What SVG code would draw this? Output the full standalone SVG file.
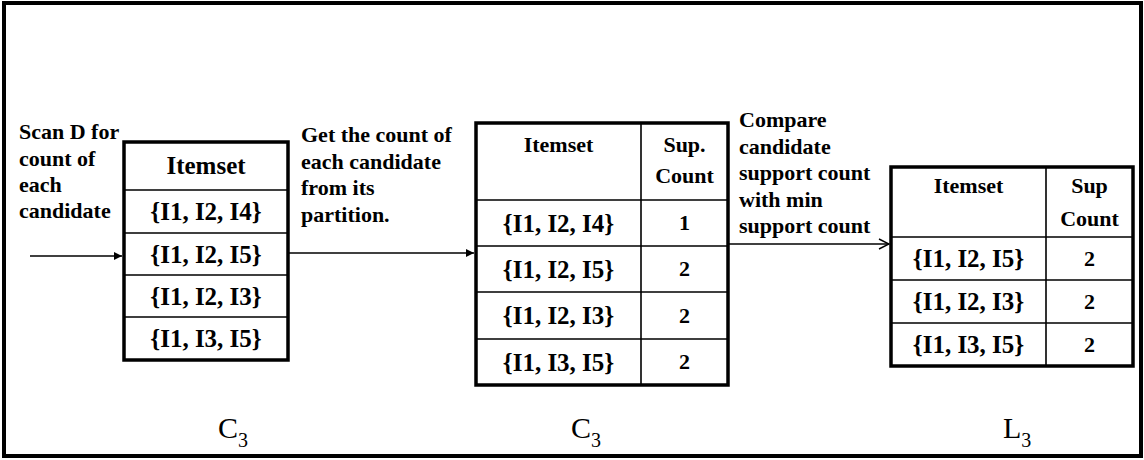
<svg xmlns="http://www.w3.org/2000/svg" width="1144" height="460" viewBox="0 0 1144 460">
  <style>
    .frame { fill: #ffffff; stroke: #000000; stroke-width: 4; }
    .tbl { fill: #ffffff; stroke: #000000; stroke-width: 3.5; }
    .grid { stroke: #000000; stroke-width: 1.6; fill: none; }
    .cell { font-family: 'Liberation Serif', serif; font-weight: 700; font-size: 25px; fill: #000000; text-anchor: middle; }
    .head { font-family: 'Liberation Serif', serif; font-weight: 700; font-size: 22px; fill: #000000; text-anchor: middle; }
    .note { font-family: 'Liberation Serif', serif; font-weight: 700; font-size: 22px; fill: #000000; }
    .cap { font-family: 'Liberation Serif', serif; font-size: 30px; fill: #000000; }
    .sub { font-size: 20px; }
    .conn { stroke: #000000; stroke-width: 1.6; fill: none; }
  </style>
  <defs>
    <marker id="solidHead" viewBox="0 0 10 10" refX="10" refY="5" markerWidth="8" markerHeight="8" markerUnits="userSpaceOnUse" orient="auto">
      <path d="M0,0 L10,5 L0,10 Z" fill="#000000"/>
    </marker>
    <marker id="openHead" viewBox="0 0 12 12" refX="11" refY="6" markerWidth="12" markerHeight="12" markerUnits="userSpaceOnUse" orient="auto">
      <path d="M1,1 L11,6 L1,11" fill="none" stroke="#000000" stroke-width="1.4"/>
    </marker>
  </defs>

  <!-- outer border -->
  <rect class="frame" x="4" y="3" width="1137" height="453"/>

  <!-- step annotations -->
  <g id="label-scan">
    <text class="note" x="19" y="139">Scan D for</text>
    <text class="note" x="19" y="165.5">count of</text>
    <text class="note" x="19" y="192">each</text>
    <text class="note" x="19" y="218">candidate</text>
  </g>
  <g id="label-count">
    <text class="note" x="301" y="142">Get the count of</text>
    <text class="note" x="301" y="168.5">each candidate</text>
    <text class="note" x="301" y="195">from its</text>
    <text class="note" x="301" y="221.5">partition.</text>
  </g>
  <g id="label-compare">
    <text class="note" x="739" y="127">Compare</text>
    <text class="note" x="739" y="153.5">candidate</text>
    <text class="note" x="739" y="180">support count</text>
    <text class="note" x="739" y="206.5">with min</text>
    <text class="note" x="739" y="233">support count</text>
  </g>

  <!-- candidate itemsets C3 -->
  <g id="table-c3-scan">
    <rect class="tbl" x="124" y="142" width="164" height="218"/>
    <path class="grid" d="M124,190 H288 M124,233 H288 M124,275 H288 M124,317 H288"/>
    <text class="cell" x="206" y="174">Itemset</text>
    <text class="cell" x="206" y="220">{I1, I2, I4}</text>
    <text class="cell" x="206" y="262.5">{I1, I2, I5}</text>
    <text class="cell" x="206" y="304.5">{I1, I2, I3}</text>
    <text class="cell" x="206" y="347">{I1, I3, I5}</text>
  </g>

  <!-- candidate itemsets C3 with support counts -->
  <g id="table-c3-count">
    <rect class="tbl" x="476" y="123" width="252" height="262"/>
    <path class="grid" d="M476,200 H728 M476,246 H728 M476,292 H728 M476,339 H728 M641,123 V385"/>
    <text class="head" x="558.5" y="152">Itemset</text>
    <text class="head" x="684.5" y="152">Sup.</text>
    <text class="head" x="684.5" y="183">Count</text>
    <text class="cell" x="558.5" y="231.5">{I1, I2, I4}</text>
    <text class="head" x="684.5" y="230">1</text>
    <text class="cell" x="558.5" y="277.5">{I1, I2, I5}</text>
    <text class="head" x="684.5" y="276">2</text>
    <text class="cell" x="558.5" y="324">{I1, I2, I3}</text>
    <text class="head" x="684.5" y="322.5">2</text>
    <text class="cell" x="558.5" y="370.5">{I1, I3, I5}</text>
    <text class="head" x="684.5" y="369">2</text>
  </g>

  <!-- frequent itemsets L3 -->
  <g id="table-l3">
    <rect class="tbl" x="891" y="167" width="242" height="199"/>
    <path class="grid" d="M891,237 H1133 M891,280 H1133 M891,323 H1133 M1046,167 V366"/>
    <text class="head" x="968.5" y="193">Itemset</text>
    <text class="head" x="1089.5" y="193">Sup</text>
    <text class="head" x="1089.5" y="226">Count</text>
    <text class="cell" x="968.5" y="267">{I1, I2, I5}</text>
    <text class="head" x="1089.5" y="265.5">2</text>
    <text class="cell" x="968.5" y="310">{I1, I2, I3}</text>
    <text class="head" x="1089.5" y="308.5">2</text>
    <text class="cell" x="968.5" y="353">{I1, I3, I5}</text>
    <text class="head" x="1089.5" y="351.5">2</text>
  </g>

  <!-- table captions -->
  <g id="caption-c3-a"><text class="cap" x="218" y="438">C<tspan class="sub" dy="9">3</tspan></text></g>
  <g id="caption-c3-b"><text class="cap" x="571" y="438">C<tspan class="sub" dy="9">3</tspan></text></g>
  <g id="caption-l3"><text class="cap" x="1003" y="438">L<tspan class="sub" dy="9">3</tspan></text></g>

  <!-- connectors -->
  <g id="connectors">
    <line class="conn" x1="30" y1="256" x2="122" y2="256" marker-end="url(#solidHead)"/>
    <line class="conn" x1="289" y1="253" x2="474" y2="253" marker-end="url(#solidHead)"/>
    <line class="conn" x1="729" y1="244" x2="889" y2="244" marker-end="url(#openHead)"/>
  </g>
</svg>
